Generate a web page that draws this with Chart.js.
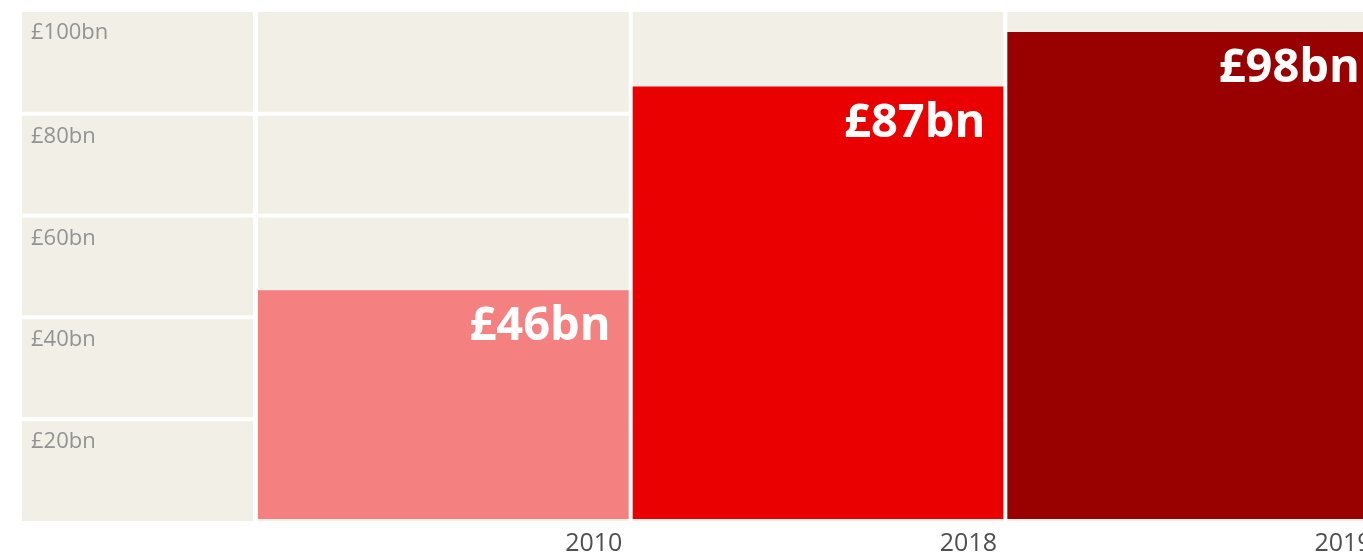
<!DOCTYPE html>
<html>
<head>
<meta charset="utf-8">
<script src="https://cdn.jsdelivr.net/npm/chart.js@4/dist/chart.umd.min.js"></script>
<style>
    html, body { margin: 0; padding: 0; background: #fff; overflow: hidden; }
    #wrap { width: 1400px; height: 556px; }
</style>
</head>
<body>
<div id="wrap"><canvas id="spendChart" width="1400" height="556"></canvas></div>
<script>
// Values (£bn)
const years = ['2010', '2018', '2019'];
const spending = [46, 87, 98];
const barColours = ['#f58080', '#eb0000', '#990000'];
const yTickValues = [20, 40, 60, 80, 100];
const yMax = 102;

const cellColour = '#f2efe7';
const fontFamily = '"Open Sans", "Noto Sans", sans-serif';

function formatBn(v) {
    return '£' + v + 'bn';
}

// beige background cells behind the bars and the tick column
const cellGrid = {
    id: 'cellGrid',
    beforeDatasetsDraw(chart) {
        const { ctx, chartArea, scales } = chart;
        const top = chartArea.top;
        const bottom = chartArea.bottom + 2;
        const rows = yTickValues.length;
        const rowH = (bottom - top) / rows;
        const xs = scales.x;
        const catW = xs.width / years.length;

        // columns: tick column first, then one per year
        const cols = [[22, chartArea.left - 3]];
        years.forEach((y, i) => {
            const c = xs.getPixelForValue(i);
            cols.push([c - catW / 2 + 2, c + catW / 2 - 2]);
        });

        ctx.save();
        ctx.fillStyle = cellColour;
        for (let r = 0; r < rows; r++) {
            const y0 = top + r * rowH + (r === 0 ? 0 : 2);
            const y1 = top + (r + 1) * rowH - (r === rows - 1 ? 0 : 2);
            cols.forEach(([x0, x1]) => ctx.fillRect(x0, y0, x1 - x0, y1 - y0));
        }

        // tick labels sit in the top-left corner of each row
        ctx.fillStyle = '#939393';
        ctx.font = '22px ' + fontFamily;
        ctx.textAlign = 'left';
        ctx.textBaseline = 'alphabetic';
        yTickValues.slice().reverse().forEach((v, r) => {
            const rowTop = top + r * rowH + (r === 0 ? 0 : 2);
            ctx.fillText(formatBn(v), 31, rowTop + 27);
        });
        ctx.restore();
    }
};

// big white value labels inside the top-right of each bar
const valueLabels = {
    id: 'valueLabels',
    afterDatasetsDraw(chart) {
        const { ctx } = chart;
        const meta = chart.getDatasetMeta(0);
        ctx.save();
        ctx.fillStyle = '#ffffff';
        ctx.font = 'bold 47px ' + fontFamily;
        ctx.textAlign = 'right';
        ctx.textBaseline = 'alphabetic';
        meta.data.forEach((bar, i) => {
            ctx.fillText(formatBn(spending[i]), bar.x + bar.width / 2 - 18, bar.y + 50);
        });
        ctx.restore();
    }
};

const ctx = document.getElementById('spendChart');
new Chart(ctx, {
    type: 'bar',
    data: {
        labels: years,
        datasets: [{
            data: spending,
            backgroundColor: barColours,
            borderWidth: 0,
            barPercentage: 0.9893,
            categoryPercentage: 1
        }]
    },
    options: {
        responsive: false,
        animation: false,
        devicePixelRatio: 1,
        layout: { padding: { top: 12, right: 20, left: 0, bottom: 0 } },
        plugins: {
            legend: { display: false },
            tooltip: { enabled: false }
        },
        scales: {
            x: {
                grid: { display: false, drawTicks: false },
                border: { display: false },
                ticks: {
                    align: 'end',
                    labelOffset: 179,
                    padding: 10,
                    color: '#505050',
                    font: { family: fontFamily, size: 25 }
                },
                afterFit(scale) { scale.height = 37; }
            },
            y: {
                min: 0,
                max: yMax,
                grid: { display: false, drawTicks: false },
                border: { display: false },
                ticks: { display: false },
                afterFit(scale) { scale.width = 256; }
            }
        }
    },
    plugins: [cellGrid, valueLabels]
});
</script>
</body>
</html>
